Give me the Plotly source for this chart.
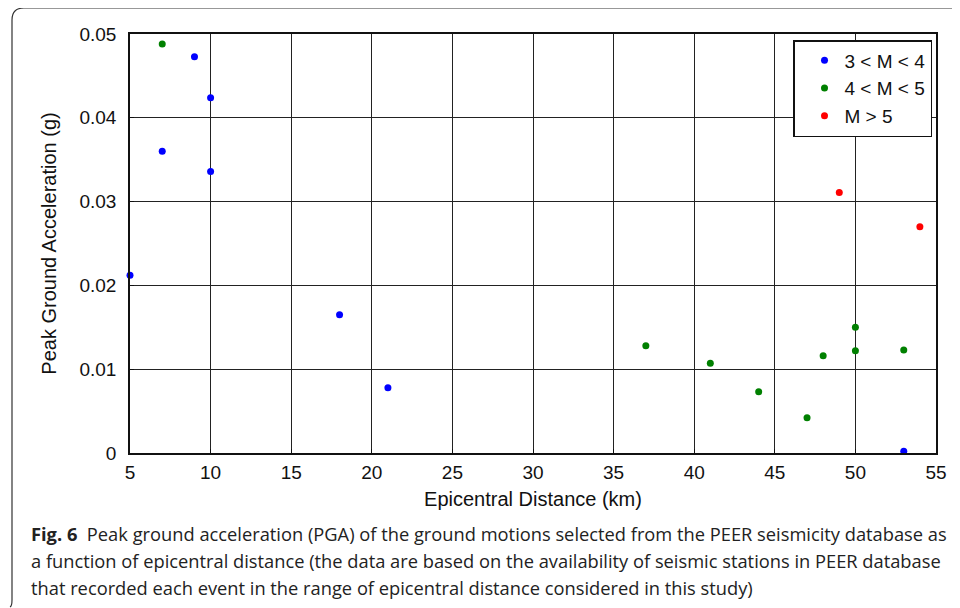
import plotly.graph_objects as go

# ---- data ----
blue_x = [5, 7, 9, 10, 10, 18, 21, 53]
blue_y = [0.0212, 0.0360, 0.0473, 0.0424, 0.0336, 0.0165, 0.0078, 0.0002]
green_x = [7, 37, 41, 44, 47, 48, 50, 50, 53]
green_y = [0.0488, 0.0128, 0.0107, 0.0073, 0.0042, 0.0116, 0.0150, 0.0122, 0.0123]
red_x = [49, 54]
red_y = [0.0311, 0.0270]
series_names = ["3 < M < 4", "4 < M < 5", "M > 5"]
x_ticks = [5, 10, 15, 20, 25, 30, 35, 40, 45, 50, 55]
y_ticks = [0, 0.01, 0.02, 0.03, 0.04, 0.05]
y_tick_labels = ["0", "0.01", "0.02", "0.03", "0.04", "0.05"]
caption_lines = [
    "<b>Fig. 6</b>  Peak ground acceleration (PGA) of the ground motions selected from the PEER seismicity database as",
    "a function of epicentral distance (the data are based on the availability of seismic stations in PEER database",
    "that recorded each event in the range of epicentral distance considered in this study)",
]

# page has an 8px body margin, so the figure is 8px smaller than the window
OFF = 8
W, H = 960 - OFF, 608 - OFF
L, R, T, B = 130 - OFF, 24, 34 - OFF, 155
PW, PH = W - L - R, H - T - B


def px(x):
    """page x pixel -> paper coordinate"""
    return (x - OFF - L) / PW


def py(y):
    """page y pixel -> paper coordinate"""
    return (H - B - (y - OFF)) / PH


fig = go.Figure()
for xs, ys, name, col in [
    (blue_x, blue_y, series_names[0], "#0000FF"),
    (green_x, green_y, series_names[1], "#008000"),
    (red_x, red_y, series_names[2], "#FF0000"),
]:
    fig.add_trace(go.Scatter(x=xs, y=ys, mode="markers", name=name,
                             marker=dict(color=col, size=7, line=dict(width=0)),
                             cliponaxis=False))

tick_font = dict(family="Liberation Sans, Arial, sans-serif", size=19, color="#111")
title_font = dict(family="Liberation Sans, Arial, sans-serif", size=20, color="#111")

fig.update_layout(
    width=W, height=H,
    margin=dict(l=L, r=R, t=T, b=B, autoexpand=False),
    paper_bgcolor="white", plot_bgcolor="white",
    font=tick_font,
    showlegend=True,
    legend=dict(x=px(932), y=py(40), xanchor="right", yanchor="top",
                bgcolor="white", bordercolor="#111", borderwidth=1.5,
                font=dict(family="Liberation Sans, Arial, sans-serif", size=19, color="#111"),
                itemwidth=30, indentation=10, tracegroupgap=0),
    xaxis=dict(range=[5, 55], tickvals=x_ticks, showgrid=True, gridcolor="#222", gridwidth=1,
               zeroline=False, showline=True, linecolor="#111", linewidth=1.5, mirror=True,
               ticks="inside", ticklen=4, tickcolor="#111",
               title=dict(text="Epicentral Distance (km)", standoff=10, font=title_font),
               tickfont=tick_font, ticklabelstandoff=1),
    yaxis=dict(range=[0, 0.05], tickvals=y_ticks, ticktext=y_tick_labels, showgrid=True,
               gridcolor="#222", gridwidth=1,
               zeroline=False, showline=True, linecolor="#111", linewidth=1.5, mirror=True,
               ticks="inside", ticklen=4, tickcolor="#111",
               title=dict(text="Peak Ground Acceleration (g)", standoff=17, font=title_font),
               tickfont=tick_font, ticklabelstandoff=8),
)

# figure frame (rounded top-left box)
path = (f"M {px(10)},{py(607)} Q {px(12)},{py(606)} {px(12)},{py(600)} "
        f"L {px(12)},{py(20)} Q {px(12)},{py(8)} {px(24)},{py(8)} "
        f"L {px(970)},{py(8)}")
fig.add_shape(type="path", path=path, xref="paper", yref="paper",
              line=dict(color="#333", width=1.2), layer="above")

cap_font = dict(family="Open Sans, Noto Sans, sans-serif", size=18.3, color="#222")
for line, yy in zip(caption_lines, [533, 560, 587]):
    fig.add_annotation(text=line, xref="paper", yref="paper", x=px(29), y=py(yy),
                       xanchor="left", yanchor="middle", showarrow=False, align="left",
                       font=cap_font)

fig.write_html("out.html")
